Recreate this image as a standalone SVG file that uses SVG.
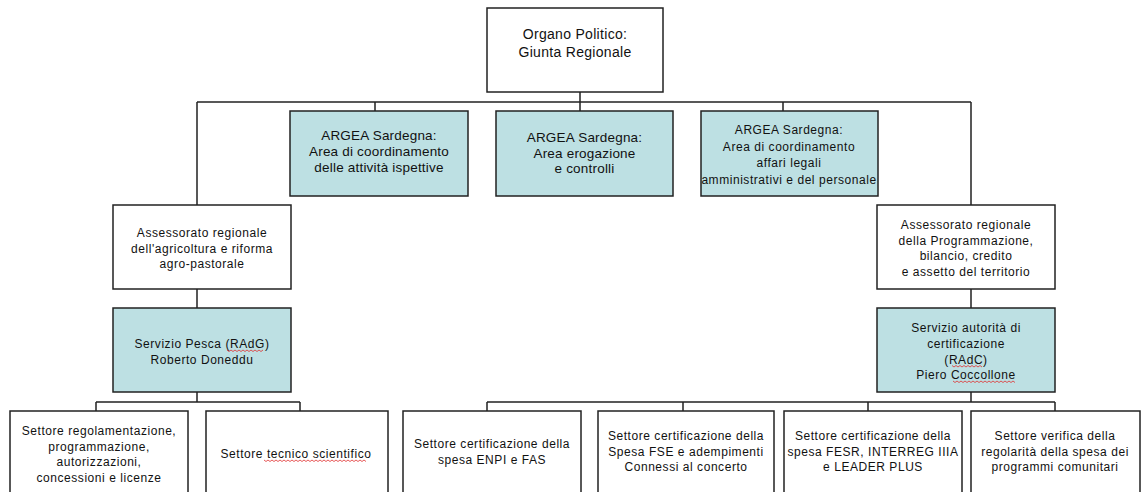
<svg xmlns="http://www.w3.org/2000/svg" width="1146" height="492" viewBox="0 0 1146 492">
<defs>
<style>
.w{fill:#ffffff;stroke:#222222;stroke-width:1.5}
.b{fill:#bde0e3;stroke:#222222;stroke-width:1.5}
.c{fill:none;stroke:#222222;stroke-width:1.5}
.sq{fill:none;stroke:#e03030;stroke-width:0.8}
text{font-family:"Liberation Sans",Arial,sans-serif;fill:#111111;text-anchor:middle}
.t14{font-size:14px;letter-spacing:0.3px}
.t13{font-size:13.5px;letter-spacing:0.2px}
.t12{font-size:12px;letter-spacing:0.55px}
</style>
</defs>
<rect width="1146" height="492" fill="#ffffff"/>
<g id="connectors">
<path class="c" d="M580,92V102M197,102H971M197,102V205M971,102V205M375,102V111M580,102V111M783,102V111"/>
<path class="c" d="M197,289V308M197,392V402M96,402H300M96,402V411M300,402V411"/>
<path class="c" d="M971,289V308M971,392V402M487,402H1055M487,402V411M683,402V411M868,402V411M1055,402V411"/>
</g>
<g id="giunta">
<rect class="w" x="487" y="8" width="176" height="84"/>
<text class="t14" x="575" y="39">Organo Politico:</text>
<text class="t14" x="575" y="57">Giunta Regionale</text>
</g>
<g id="argea1">
<rect class="b" x="290" y="111" width="178" height="85"/>
<text class="t13" x="379" y="140">ARGEA Sardegna:</text>
<text class="t13" x="379" y="156">Area di coordinamento</text>
<text class="t13" x="379" y="172">delle attività ispettive</text>
</g>
<g id="argea2">
<rect class="b" x="496" y="111" width="177" height="85"/>
<text class="t13" x="584.5" y="141.5">ARGEA Sardegna:</text>
<text class="t13" x="584.5" y="157.5">Area erogazione</text>
<text class="t13" x="584.5" y="173">e controlli</text>
</g>
<g id="argea3">
<rect class="b" x="701" y="111" width="177" height="85"/>
<text class="t12" x="789" y="134">ARGEA Sardegna:</text>
<text class="t12" x="789" y="151">Area di coordinamento</text>
<text class="t12" x="789" y="167">affari legali</text>
<text class="t12" x="789" y="183.5">amministrativi e del personale</text>
</g>
<g id="ass-agricoltura">
<rect class="w" x="113" y="205" width="178" height="84"/>
<text class="t12" x="202" y="237">Assessorato regionale</text>
<text class="t12" x="202" y="252.5">dell'agricoltura e riforma</text>
<text class="t12" x="202" y="268">agro-pastorale</text>
</g>
<g id="servizio-pesca">
<rect class="b" x="113" y="308" width="178" height="84"/>
<text class="t12" x="202" y="348">Servizio Pesca (RAdG)</text>
<text class="t12" x="202" y="363.5">Roberto Doneddu</text>
<path class="sq" d="M227,350l2,1.5l2,-1.5l2,1.5l2,-1.5l2,1.5l2,-1.5l2,1.5l2,-1.5l2,1.5l2,-1.5l2,1.5l2,-1.5l2,1.5l2,-1.5l2,1.5l2,-1.5l2,1.5l2,-1.5"/>
</g>
<g id="ass-programmazione">
<rect class="w" x="877" y="205" width="178" height="84"/>
<text class="t12" x="966" y="228.5">Assessorato regionale</text>
<text class="t12" x="966" y="244.5">della Programmazione,</text>
<text class="t12" x="966" y="260">bilancio, credito</text>
<text class="t12" x="966" y="276">e assetto del territorio</text>
</g>
<g id="servizio-certificazione">
<rect class="b" x="877" y="308" width="178" height="84"/>
<text class="t12" x="966" y="331.5">Servizio autorità di</text>
<text class="t12" x="966" y="347.5">certificazione</text>
<text class="t12" x="966" y="363.5">(RAdC)</text>
<text class="t12" x="966" y="379">Piero Coccollone</text>
<path class="sq" d="M952,365.5l2,1.5l2,-1.5l2,1.5l2,-1.5l2,1.5l2,-1.5l2,1.5l2,-1.5l2,1.5l2,-1.5l2,1.5l2,-1.5l2,1.5l2,-1.5l2,1.5"/>
<path class="sq" d="M953,381l2,1.5l2,-1.5l2,1.5l2,-1.5l2,1.5l2,-1.5l2,1.5l2,-1.5l2,1.5l2,-1.5l2,1.5l2,-1.5l2,1.5l2,-1.5l2,1.5l2,-1.5l2,1.5l2,-1.5l2,1.5l2,-1.5l2,1.5l2,-1.5l2,1.5l2,-1.5l2,1.5l2,-1.5l2,1.5l2,-1.5l2,1.5l2,-1.5l2,1.5"/>
</g>
<g id="settore-regolamentazione">
<rect class="w" x="10" y="411" width="178" height="100"/>
<text class="t12" x="99" y="435">Settore regolamentazione,</text>
<text class="t12" x="99" y="450.5">programmazione,</text>
<text class="t12" x="99" y="466">autorizzazioni,</text>
<text class="t12" x="99" y="481.5">concessioni e licenze</text>
</g>
<g id="settore-tecnico">
<rect class="w" x="206" y="411" width="182" height="100"/>
<text class="t12" x="296" y="457.5">Settore tecnico scientifico</text>
<path class="sq" d="M264,460l2,1.5l2,-1.5l2,1.5l2,-1.5l2,1.5l2,-1.5l2,1.5l2,-1.5l2,1.5l2,-1.5l2,1.5l2,-1.5l2,1.5l2,-1.5l2,1.5l2,-1.5l2,1.5l2,-1.5l2,1.5l2,-1.5l2,1.5l2,-1.5l2,1.5l2,-1.5l2,1.5l2,-1.5l2,1.5l2,-1.5l2,1.5l2,-1.5l2,1.5l2,-1.5l2,1.5l2,-1.5l2,1.5l2,-1.5l2,1.5l2,-1.5l2,1.5l2,-1.5l2,1.5l2,-1.5l2,1.5l2,-1.5l2,1.5l2,-1.5l2,1.5l2,-1.5l2,1.5l2,-1.5l2,1.5"/>
</g>
<g id="settore-enpi">
<rect class="w" x="403" y="411" width="178" height="100"/>
<text class="t12" x="492" y="448">Settore certificazione della</text>
<text class="t12" x="492" y="463.5">spesa ENPI e FAS</text>
</g>
<g id="settore-fse">
<rect class="w" x="598" y="411" width="176" height="100"/>
<text class="t12" x="686" y="440">Settore certificazione della</text>
<text class="t12" x="686" y="455.5">Spesa FSE e adempimenti</text>
<text class="t12" x="686" y="471">Connessi al concerto</text>
</g>
<g id="settore-fesr">
<rect class="w" x="784" y="411" width="178" height="100"/>
<text class="t12" x="873" y="440">Settore certificazione della</text>
<text class="t12" x="873" y="455.5">spesa FESR, INTERREG IIIA</text>
<text class="t12" x="873" y="471">e LEADER PLUS</text>
</g>
<g id="settore-verifica">
<rect class="w" x="971" y="411" width="169" height="100"/>
<text class="t12" x="1055" y="440">Settore verifica della</text>
<text class="t12" x="1055" y="455.5">regolarità della spesa dei</text>
<text class="t12" x="1055" y="471">programmi comunitari</text>
</g>
</svg>
